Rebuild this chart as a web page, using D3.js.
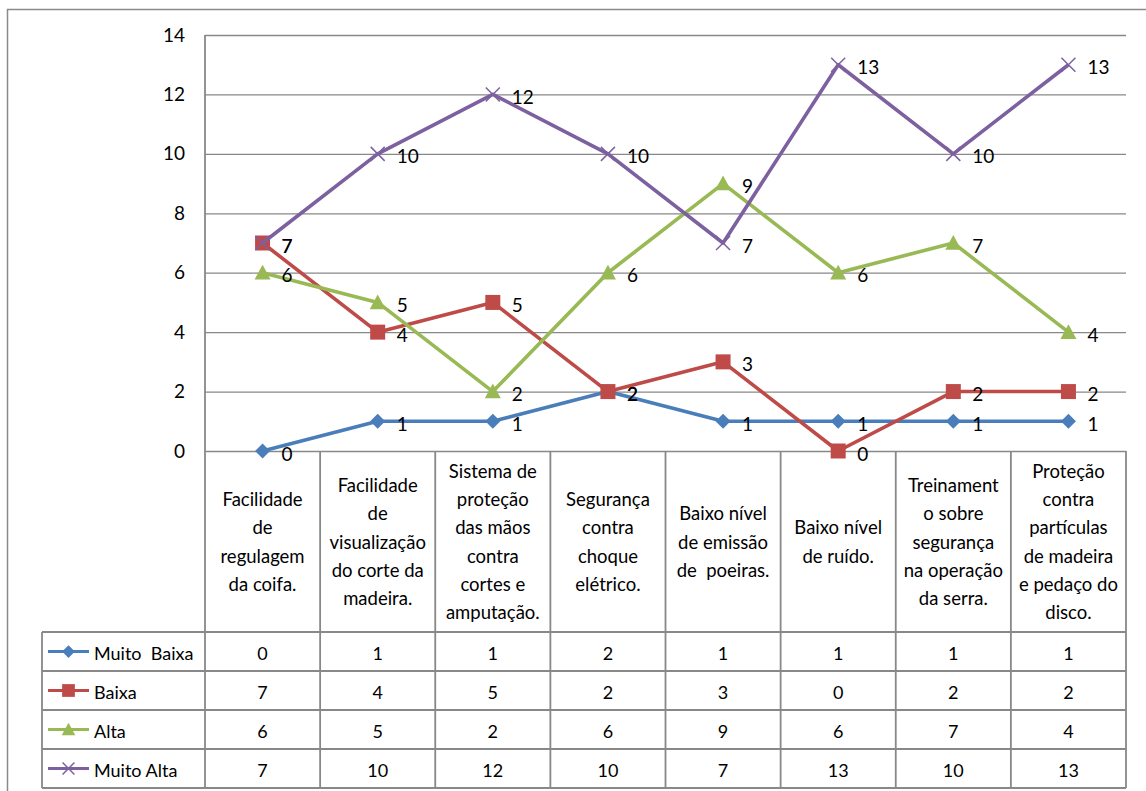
<!DOCTYPE html>
<html>
<head>
<meta charset="utf-8">
<script src="https://cdn.jsdelivr.net/npm/d3@7"></script>
<style>
  html, body { margin: 0; padding: 0; background: #fff; }
  svg { display: block; }
  text { font-family: Lato, "Open Sans", sans-serif; fill: #000; }
</style>
</head>
<body>
<svg id="chart" width="1146" height="791"></svg>
<script>
// Categories (line breaks as shown in the header cells)
const categories = [
  "Facilidade\nde\nregulagem\nda coifa.",
  "Facilidade\nde\nvisualização\ndo corte da\nmadeira.",
  "Sistema de\nproteção\ndas mãos\ncontra\ncortes e\namputação.",
  "Segurança\ncontra\nchoque\nelétrico.",
  "Baixo nível\nde emissão\nde  poeiras.",
  "Baixo nível\nde ruído.",
  "Treinament\no sobre\nsegurança\nna operação\nda serra.",
  "Proteção\ncontra\npartículas\nde madeira\ne pedaço do\ndisco."
];

// Series values
const seriesNames = ["Muito  Baixa", "Baixa", "Alta", "Muito Alta"];
const muitoBaixa = [0, 1, 1, 2, 1, 1, 1, 1];
const baixa      = [7, 4, 5, 2, 3, 0, 2, 2];
const alta       = [6, 5, 2, 6, 9, 6, 7, 4];
const muitoAlta  = [7, 10, 12, 10, 7, 13, 10, 13];

// Value axis ticks
const yTicks = [0, 2, 4, 6, 8, 10, 12, 14];

const seriesColors = ["#4A7EBB", "#BE4B48", "#98B954", "#7D60A0"];
const seriesSymbols = ["diamond", "square", "triangle", "cross"];
const series = [muitoBaixa, baixa, alta, muitoAlta].map((values, i) => ({
  name: seriesNames[i], values, color: seriesColors[i], symbol: seriesSymbols[i]
}));

const svg = d3.select("#chart");
const gridColor = "#888888";

// Layout
const plot = { left: 205, right: 1126, top: 35, bottom: 451 };
const headerBottom = 632;
const rowH = 39;
const legendLeft = 42;

const x = d3.scaleBand().domain(d3.range(categories.length)).range([plot.left, plot.right]).padding(0);
const cx = i => x(i) + x.bandwidth() / 2;
const y = d3.scaleLinear().domain([0, 14]).range([plot.bottom, plot.top]);

// Outer chart frame
svg.append("rect")
  .attr("x", 7.5).attr("y", 9.5).attr("width", 1160).attr("height", 800)
  .attr("fill", "none").attr("stroke", "#8a8a8a").attr("stroke-width", 1.5);

// Gridlines + value labels
const yAxis = svg.append("g")
  .attr("transform", `translate(${plot.left},0)`)
  .call(d3.axisLeft(y).tickValues(yTicks).tickSize(-(plot.right - plot.left)).tickPadding(20).tickFormat(d3.format("d")));
yAxis.select(".domain").remove();
yAxis.selectAll(".tick line").attr("stroke", gridColor).attr("stroke-width", 1.3);
yAxis.selectAll(".tick text")
  .attr("font-size", 19).attr("font-family", "Lato, sans-serif").attr("fill", "#000");

// Table grid
const tableBottom = headerBottom + rowH * series.length;
const lines = svg.append("g").attr("stroke", gridColor).attr("stroke-width", 1.8);
// value axis line, running down through the table
lines.append("line").attr("x1", plot.left).attr("x2", plot.left).attr("y1", plot.top).attr("y2", tableBottom);
// column separators in header + table
d3.range(1, categories.length + 1).forEach(i => {
  const xx = i < categories.length ? x(i) : plot.right;
  lines.append("line").attr("x1", xx).attr("x2", xx).attr("y1", plot.bottom).attr("y2", tableBottom);
});
// legend column left edge
lines.append("line").attr("x1", legendLeft).attr("x2", legendLeft).attr("y1", headerBottom).attr("y2", tableBottom);
// row separators
d3.range(series.length + 1).forEach(r => {
  const yy = headerBottom + r * rowH;
  lines.append("line").attr("x1", legendLeft).attr("x2", plot.right).attr("y1", yy).attr("y2", yy);
});

// Category header text
const headerMid = (plot.bottom + headerBottom) / 2;
const lineH = 28.3;
categories.forEach((c, i) => {
  const parts = c.split("\n");
  const t = svg.append("text")
    .attr("text-anchor", "middle").attr("font-size", 18.5)
    .attr("xml:space", "preserve");
  parts.forEach((p, k) => {
    t.append("tspan")
      .attr("x", cx(i))
      .attr("y", headerMid + (k - (parts.length - 1) / 2) * lineH)
      .attr("dominant-baseline", "central")
      .text(p);
  });
});

// Marker drawing
function drawMarker(g, s, px, py, sizeScale) {
  const k = sizeScale || 1;
  let d;
  if (s.symbol === "cross") {
    const h = 7 * k;
    g.append("path")
      .attr("d", `M${px - h},${py - h}L${px + h},${py + h}M${px - h},${py + h}L${px + h},${py - h}`)
      .attr("stroke", s.color).attr("stroke-width", 1.5).attr("fill", "none");
    return;
  }
  if (s.symbol === "diamond") {
    const h = 7.5 * k;
    d = `M${px},${py - h}L${px + h},${py}L${px},${py + h}L${px - h},${py}Z`;
  } else if (s.symbol === "square") {
    const h = 7.5 * k;
    d = `M${px - h},${py - h}H${px + h}V${py + h}H${px - h}Z`;
  } else {
    const h = 8 * k;
    d = `M${px},${py - h}L${px + h},${py + 0.85 * h}L${px - h},${py + 0.85 * h}Z`;
  }
  g.append("path").attr("d", d).attr("fill", s.color);
}

// Series lines and markers
const line = d3.line().x((d, i) => cx(i)).y(d => y(d));
series.forEach(s => {
  const g = svg.append("g");
  g.append("path").datum(s.values)
    .attr("d", line).attr("fill", "none")
    .attr("stroke", s.color).attr("stroke-width", 3.6).attr("stroke-linejoin", "round");
  s.values.forEach((v, i) => drawMarker(g, s, cx(i), y(v)));
});

// Data labels
series.forEach(s => {
  svg.append("g").selectAll("text").data(s.values).join("text")
    .attr("x", (d, i) => cx(i) + 19)
    .attr("y", d => y(d) + 2)
    .attr("dominant-baseline", "central")
    .attr("font-size", 19)
    .text(d => d);
});

// Data table rows
series.forEach((s, r) => {
  const yy = headerBottom + r * rowH + rowH / 2;
  const g = svg.append("g");
  g.append("line").attr("x1", 48).attr("x2", 89).attr("y1", yy).attr("y2", yy)
    .attr("stroke", s.color).attr("stroke-width", 3);
  drawMarker(g, s, 68.5, yy, 0.85);
  g.append("text").attr("x", 94).attr("y", yy + 1)
    .attr("dominant-baseline", "central").attr("font-size", 18)
    .attr("xml:space", "preserve").text(s.name);
  s.values.forEach((v, i) => {
    g.append("text").attr("x", cx(i)).attr("y", yy + 1)
      .attr("text-anchor", "middle").attr("dominant-baseline", "central")
      .attr("font-size", 18).text(v);
  });
});
</script>
</body>
</html>
